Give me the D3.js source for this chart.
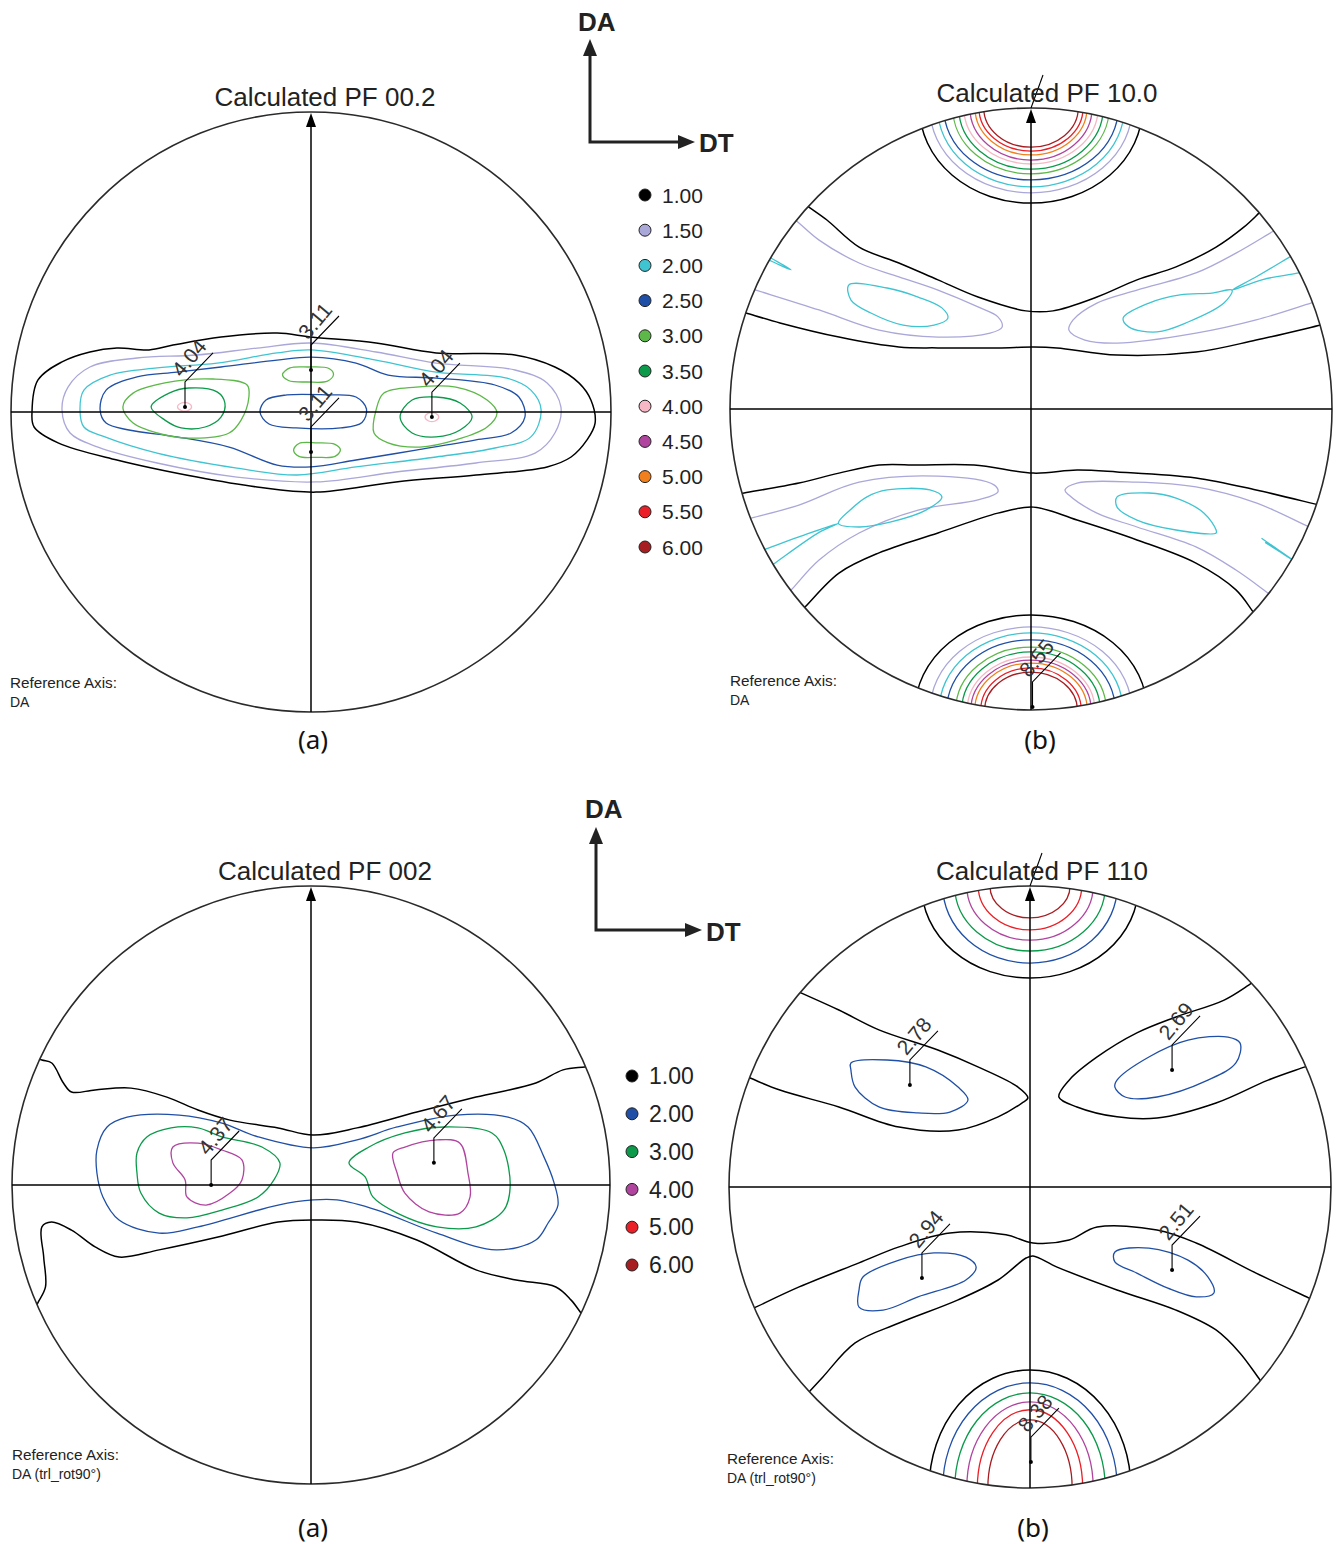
<!DOCTYPE html>
<html><head><meta charset="utf-8">
<script src="https://cdn.jsdelivr.net/npm/d3@7"></script>
<style>body{margin:0;background:#fff}svg{display:block}</style>
</head><body>
<svg id="c" width="1342" height="1544"></svg>
<script>
// ---------------- DATA ----------------
const topLevels = ["1.00","1.50","2.00","2.50","3.00","3.50","4.00","4.50","5.00","5.50","6.00"];
const topColors = ["#000000","#aaa7d9","#3fc4d2","#1f4fa6","#5cb848","#0b9a4a","#f5b8c4","#b0449f","#f0801e","#ea1f27","#a61e22"];
const botLevels = ["1.00","2.00","3.00","4.00","5.00","6.00"];
const botColors = ["#000000","#1f4fa6","#0b9a4a","#b0449f","#ea1f27","#a61e22"];

// PF 00.2 (top-left), normalized pole-figure coords
const tlBlack = [[-0.93,0],[-0.91,0.107],[-0.83,0.167],[-0.737,0.2],[-0.647,0.213],[-0.54,0.207],[-0.46,0.223],[-0.3,0.25],[-0.113,0.263],[0,0.25],[0.217,0.23],[0.417,0.197],[0.68,0.19],[0.813,0.15],[0.893,0.097],[0.933,0.04],[0.947,-0.037],[0.92,-0.093],[0.867,-0.15],[0.787,-0.183],[0.55,-0.21],[0.283,-0.233],[0.017,-0.267],[-0.18,-0.25],[-0.38,-0.217],[-0.647,-0.16],[-0.843,-0.103],[-0.923,-0.05]];
const tlLav = [[-0.83,0.007],[-0.81,0.083],[-0.737,0.15],[-0.58,0.18],[-0.38,0.19],[-0.18,0.213],[0,0.23],[0.217,0.2],[0.417,0.163],[0.68,0.14],[0.787,0.097],[0.833,0.017],[0.813,-0.07],[0.747,-0.137],[0.55,-0.17],[0.283,-0.2],[0.017,-0.233],[-0.247,-0.217],[-0.513,-0.17],[-0.71,-0.117],[-0.803,-0.07]];
const tlCyan = [[-0.77,0.007],[-0.757,0.073],[-0.67,0.123],[-0.513,0.147],[-0.313,0.163],[-0.113,0.197],[0,0.207],[0.217,0.173],[0.417,0.133],[0.653,0.113],[0.733,0.073],[0.767,0.007],[0.733,-0.083],[0.613,-0.12],[0.417,-0.15],[0.15,-0.183],[-0.047,-0.21],[-0.247,-0.187],[-0.513,-0.137],[-0.687,-0.083],[-0.757,-0.05]];
const tlBlue = [[-0.703,0.007],[-0.683,0.073],[-0.58,0.117],[-0.447,0.133],[-0.3,0.15],[-0.113,0.173],[0,0.183],[0.15,0.163],[0.257,0.123],[0.417,0.113],[0.613,0.09],[0.693,0.05],[0.713,-0.017],[0.667,-0.07],[0.55,-0.093],[0.35,-0.127],[0.15,-0.16],[0,-0.183],[-0.113,-0.177],[-0.273,-0.117],[-0.447,-0.083],[-0.607,-0.06],[-0.683,-0.037]];
const tlBlueC = [[-0.17,0],[-0.15,0.04],[-0.08,0.057],[0.05,0.057],[0.15,0.05],[0.185,0.01],[0.17,-0.035],[0.1,-0.053],[-0.05,-0.053],[-0.14,-0.04]];
const tlLgreenL = [[-0.627,0.017],[-0.593,0.063],[-0.487,0.097],[-0.327,0.11],[-0.213,0.09],[-0.207,0.05],[-0.233,-0.027],[-0.273,-0.07],[-0.407,-0.087],[-0.513,-0.07],[-0.593,-0.037]];
const tlLgreenR = [[0.21,-0.07],[0.217,0.007],[0.243,0.063],[0.35,0.083],[0.483,0.083],[0.587,0.04],[0.62,-0.003],[0.587,-0.05],[0.483,-0.093],[0.363,-0.117],[0.257,-0.103]];
const tlLgreenT = [[-0.095,0.125],[-0.07,0.147],[-0.01,0.15],[0.06,0.145],[0.075,0.125],[0.055,0.103],[-0.01,0.1],[-0.075,0.105]];
const tlLgreenB = [[-0.058,-0.127],[-0.04,-0.105],[0.02,-0.103],[0.08,-0.108],[0.098,-0.127],[0.08,-0.148],[0.02,-0.151],[-0.04,-0.148]];
const tlGreenL = [[-0.533,0.017],[-0.473,0.063],[-0.407,0.08],[-0.313,0.067],[-0.287,0.03],[-0.3,-0.017],[-0.353,-0.05],[-0.433,-0.053],[-0.487,-0.027]];
const tlGreenR = [[0.297,-0.017],[0.337,0.04],[0.417,0.05],[0.497,0.03],[0.537,-0.017],[0.497,-0.06],[0.417,-0.083],[0.337,-0.07]];
const tlPinkL = [[-0.445,0.017],[-0.432,0.03],[-0.41,0.03],[-0.398,0.017],[-0.41,0.005],[-0.432,0.005]];
const tlPinkR = [[0.38,-0.017],[0.392,-0.004],[0.414,-0.004],[0.426,-0.017],[0.414,-0.03],[0.392,-0.03]];
const tlPeaks = [[-0.42,0.017],[0.403,-0.017],[0,0.14],[0,-0.133]];
const tlPeakText = ["4.04","4.04","3.11","3.11"];

// PF 10.0 (top-right)
const trBandTopU = [[-0.738,0.671],[-0.678,0.628],[-0.571,0.538],[-0.439,0.485],[-0.309,0.429],[-0.176,0.372],[-0.017,0.326],[0.073,0.326],[0.219,0.372],[0.352,0.429],[0.482,0.472],[0.615,0.538],[0.708,0.605],[0.761,0.654]];
const trBandTopL = [[-0.947,0.319],[-0.834,0.286],[-0.638,0.239],[-0.439,0.206],[-0.309,0.203],[-0.11,0.203],[0.008,0.206],[0.086,0.203],[0.286,0.179],[0.548,0.189],[0.748,0.229],[0.963,0.279]];
const trLavTL = [[-0.771,0.618],[-0.704,0.561],[-0.571,0.485],[-0.439,0.439],[-0.309,0.395],[-0.176,0.339],[-0.11,0.306],[-0.096,0.272],[-0.136,0.252],[-0.309,0.239],[-0.505,0.262],[-0.704,0.329],[-0.914,0.395]];
const trLavTR = [[0.8,0.588],[0.681,0.518],[0.548,0.452],[0.352,0.395],[0.219,0.352],[0.14,0.296],[0.126,0.262],[0.179,0.229],[0.286,0.219],[0.548,0.252],[0.748,0.296],[0.93,0.352]];
const trCyanTL = [[-0.605,0.412],[-0.478,0.402],[-0.375,0.372],[-0.296,0.336],[-0.276,0.302],[-0.322,0.279],[-0.425,0.279],[-0.532,0.319],[-0.598,0.362]];
const trCyanTLspike = [[-0.87,0.505],[-0.797,0.462],[-0.86,0.49]];
const trCyanTR = [[0.306,0.302],[0.392,0.352],[0.495,0.379],[0.601,0.385],[0.668,0.395],[0.641,0.352],[0.522,0.289],[0.419,0.256],[0.326,0.272]];
const trCyanTRspike = [[0.864,0.508],[0.75,0.44],[0.668,0.395],[0.77,0.43],[0.89,0.452]];
const trBandBotU = [[-0.953,-0.279],[-0.771,-0.246],[-0.638,-0.213],[-0.505,-0.186],[-0.375,-0.186],[-0.189,-0.186],[0.008,-0.213],[0.153,-0.203],[0.286,-0.209],[0.548,-0.229],[0.748,-0.269],[0.957,-0.319]];
const trBandBotL = [[-0.751,-0.658],[-0.638,-0.545],[-0.505,-0.478],[-0.309,-0.412],[-0.11,-0.346],[0.008,-0.326],[0.153,-0.369],[0.352,-0.435],[0.548,-0.512],[0.681,-0.601],[0.741,-0.678]];
const trLavBL = [[-0.927,-0.362],[-0.771,-0.319],[-0.571,-0.243],[-0.309,-0.223],[-0.123,-0.252],[-0.11,-0.276],[-0.176,-0.302],[-0.375,-0.336],[-0.571,-0.412],[-0.704,-0.502],[-0.791,-0.595]];
const trLavBR = [[0.92,-0.39],[0.748,-0.312],[0.548,-0.259],[0.352,-0.243],[0.153,-0.246],[0.113,-0.269],[0.126,-0.286],[0.219,-0.346],[0.352,-0.392],[0.548,-0.458],[0.681,-0.535],[0.787,-0.611]];
const trCyanBL = [[-0.545,-0.292],[-0.478,-0.269],[-0.336,-0.269],[-0.296,-0.292],[-0.349,-0.336],[-0.465,-0.375],[-0.571,-0.392],[-0.64,-0.38],[-0.6,-0.335]];
const trCyanBLspike = [[-0.88,-0.465],[-0.771,-0.425],[-0.64,-0.38],[-0.704,-0.41],[-0.855,-0.515]];
const trCyanBR = [[0.286,-0.292],[0.392,-0.279],[0.482,-0.296],[0.575,-0.346],[0.615,-0.402],[0.615,-0.412],[0.482,-0.402],[0.352,-0.369],[0.286,-0.326]];
const trCyanBRspike = [[0.807,-0.458],[0.875,-0.505],[0.82,-0.47]];
const trTopCapA = [0.37,0.336,0.31,0.29,0.26,0.24,0.223,0.203,0.186,0.173,0.157];
const trTopCapB = [0.316,0.282,0.262,0.239,0.219,0.203,0.186,0.173,0.156,0.143,0.13];
const trBotCapA = [0.385,0.335,0.305,0.28,0.25,0.23,0.212,0.2,0.187,0.167,0.154];
const trBotCapB = [0.316,0.276,0.256,0.233,0.209,0.193,0.176,0.166,0.156,0.14,0.126];
const trPeaks = [[0.005,-0.99]];
const trPeakText = ["8.55"];

// PF 002 (bottom-left)
const blBlackU = [[-0.9,0.418],[-0.867,0.408],[-0.828,0.341],[-0.801,0.311],[-0.722,0.318],[-0.602,0.324],[-0.482,0.294],[-0.378,0.251],[-0.271,0.217],[-0.11,0.191],[0.007,0.167],[0.154,0.191],[0.354,0.244],[0.552,0.294],[0.752,0.341],[0.843,0.385],[0.916,0.395]];
const blBlackL = [[-0.914,-0.395],[-0.888,-0.341],[-0.894,-0.241],[-0.9,-0.14],[-0.868,-0.124],[-0.801,-0.151],[-0.722,-0.207],[-0.642,-0.241],[-0.508,-0.217],[-0.311,-0.174],[-0.11,-0.124],[0.007,-0.117],[0.154,-0.124],[0.354,-0.184],[0.552,-0.284],[0.686,-0.318],[0.819,-0.341],[0.87,-0.385],[0.903,-0.428]];
const blBlue = [[-0.716,0.117],[-0.682,0.194],[-0.615,0.227],[-0.441,0.234],[-0.298,0.207],[-0.177,0.161],[0.007,0.124],[0.154,0.151],[0.288,0.194],[0.485,0.234],[0.659,0.227],[0.726,0.194],[0.779,0.094],[0.813,0.007],[0.826,-0.067],[0.793,-0.127],[0.752,-0.184],[0.619,-0.217],[0.421,-0.161],[0.221,-0.084],[0.087,-0.05],[0.007,-0.05],[-0.11,-0.067],[-0.378,-0.14],[-0.508,-0.161],[-0.642,-0.117],[-0.696,-0.04],[-0.716,0.04]];
const blGreenL = [[-0.582,0.107],[-0.548,0.161],[-0.468,0.191],[-0.378,0.191],[-0.298,0.161],[-0.164,0.127],[-0.104,0.074],[-0.124,0.017],[-0.177,-0.04],[-0.298,-0.084],[-0.415,-0.11],[-0.508,-0.094],[-0.569,-0.027],[-0.582,0.04]];
const blGreenR = [[0.127,0.074],[0.194,0.127],[0.314,0.174],[0.445,0.194],[0.605,0.174],[0.645,0.117],[0.666,-0.007],[0.645,-0.084],[0.552,-0.14],[0.421,-0.14],[0.288,-0.094],[0.207,-0.04],[0.181,0.027]];
const blMagL = [[-0.462,0.127],[-0.378,0.14],[-0.298,0.117],[-0.231,0.084],[-0.231,0.017],[-0.271,-0.027],[-0.351,-0.067],[-0.415,-0.04],[-0.421,0.017],[-0.462,0.074]];
const blMagR = [[0.274,0.107],[0.314,0.127],[0.421,0.151],[0.498,0.14],[0.525,0.04],[0.532,-0.04],[0.498,-0.094],[0.395,-0.09],[0.314,-0.027],[0.288,0.04]];
const blPeaks = [[-0.334,0],[0.411,0.074]];
const blPeakText = ["4.37","4.67"];

// PF 110 (bottom-right)
const brBandTL = [[-0.761,0.645],[-0.635,0.588],[-0.502,0.522],[-0.306,0.455],[-0.173,0.399],[-0.04,0.332],[-0.007,0.296],[-0.027,0.279],[-0.106,0.233],[-0.239,0.189],[-0.435,0.199],[-0.635,0.266],[-0.831,0.322],[-0.93,0.362]];
const brBandTR = [[0.738,0.678],[0.645,0.621],[0.485,0.565],[0.355,0.512],[0.223,0.432],[0.13,0.355],[0.096,0.299],[0.156,0.266],[0.289,0.233],[0.422,0.229],[0.618,0.279],[0.791,0.355],[0.914,0.399]];
const brBlueTL = [[-0.595,0.412],[-0.475,0.422],[-0.346,0.399],[-0.239,0.332],[-0.206,0.289],[-0.266,0.249],[-0.372,0.246],[-0.502,0.266],[-0.581,0.332],[-0.595,0.389]];
const brBlueTR = [[0.289,0.355],[0.395,0.432],[0.525,0.488],[0.658,0.498],[0.698,0.478],[0.684,0.412],[0.591,0.355],[0.422,0.299],[0.316,0.299],[0.282,0.332]];
const brBandBU = [[-0.917,-0.402],[-0.767,-0.332],[-0.568,-0.252],[-0.435,-0.199],[-0.266,-0.153],[-0.08,-0.159],[0.01,-0.186],[0.13,-0.176],[0.223,-0.133],[0.422,-0.143],[0.552,-0.186],[0.751,-0.286],[0.927,-0.369]];
const brBandBL = [[-0.734,-0.681],[-0.688,-0.631],[-0.581,-0.518],[-0.435,-0.452],[-0.239,-0.375],[-0.106,-0.309],[-0.013,-0.236],[0.01,-0.229],[0.09,-0.266],[0.289,-0.342],[0.485,-0.409],[0.618,-0.475],[0.698,-0.552],[0.764,-0.641]];
const brBlueBL = [[-0.568,-0.342],[-0.555,-0.299],[-0.435,-0.243],[-0.319,-0.219],[-0.213,-0.233],[-0.179,-0.266],[-0.213,-0.309],[-0.372,-0.365],[-0.488,-0.409],[-0.568,-0.399]];
const brBlueBR = [[0.282,-0.216],[0.395,-0.203],[0.525,-0.243],[0.591,-0.299],[0.611,-0.352],[0.552,-0.365],[0.458,-0.336],[0.355,-0.286],[0.282,-0.249]];
const brTopCapA = [0.36,0.29,0.25,0.21,0.172,0.133];
const brTopCapB = [0.306,0.256,0.216,0.18,0.146,0.106];
const brBotCapA = [0.335,0.29,0.25,0.21,0.175,0.14];
const brBotCapB = [0.392,0.349,0.316,0.286,0.26,0.226];
const brPeaks = [[-0.399,0.339],[0.472,0.389],[-0.359,-0.302],[0.472,-0.276],[0.003,-0.914]];
const brPeakText = ["2.78","2.69","2.94","2.51","8.38"];

// ---------------- DRAW ----------------
const svg = d3.select("#c");
const FONT = "'Liberation Sans', Arial, sans-serif";

function ext(pts){
  const n = pts.length;
  const e = (a,b) => { if (Math.hypot(a[0],a[1]) < 0.85) return a;
    const dx=a[0]-b[0], dy=a[1]-b[1], m=Math.hypot(dx,dy)||1; return [a[0]+dx/m*0.05, a[1]+dy/m*0.05]; };
  return [e(pts[0],pts[1]), ...pts, e(pts[n-1],pts[n-2])];
}

const panels = [
  {id:"tl", cx:311, cy:412, r:300, title:"Calculated PF 00.2", tx:325, ty:106, colors:topColors,
   contours:[[0,1,tlBlack],[1,1,tlLav],[2,1,tlCyan],[3,1,tlBlue],[3,1,tlBlueC],[4,1,tlLgreenL],[4,1,tlLgreenR],[4,1,tlLgreenT],[4,1,tlLgreenB],[5,1,tlGreenL],[5,1,tlGreenR],[6,1,tlPinkL],[6,1,tlPinkR]],
   caps:[], peaks:tlPeaks, peakText:tlPeakText, ref:["Reference Axis:","DA"], rx:10, ry:688, cap:"(a)", capX:313, capY:749, poleLine:false},
  {id:"tr", cx:1031, cy:409, r:301, title:"Calculated PF 10.0", tx:1047, ty:102, colors:topColors,
   contours:[[0,0,trBandTopU],[0,0,trBandTopL],[1,0,trLavTL],[1,0,trLavTR],[2,1,trCyanTL],[2,0,trCyanTLspike],[2,1,trCyanTR],[2,0,trCyanTRspike],
             [0,0,trBandBotU],[0,0,trBandBotL],[1,0,trLavBL],[1,0,trLavBR],[2,1,trCyanBL],[2,0,trCyanBLspike],[2,1,trCyanBR],[2,0,trCyanBRspike]],
   caps:[{pole:1,a:trTopCapA,b:trTopCapB},{pole:-1,a:trBotCapA,b:trBotCapB}], peaks:trPeaks, peakText:trPeakText,
   ref:["Reference Axis:","DA"], rx:730, ry:686, cap:"(b)", capX:1040, capY:749, poleLine:true},
  {id:"bl", cx:311, cy:1185, r:299, title:"Calculated PF 002", tx:325, ty:880, colors:botColors,
   contours:[[0,0,blBlackU],[0,0,blBlackL],[1,1,blBlue],[2,1,blGreenL],[2,1,blGreenR],[3,1,blMagL],[3,1,blMagR]],
   caps:[], peaks:blPeaks, peakText:blPeakText, ref:["Reference Axis:","DA (trl_rot90°)"], rx:12, ry:1460, cap:"(a)", capX:313, capY:1537, poleLine:false},
  {id:"br", cx:1030, cy:1187, r:301, title:"Calculated PF 110", tx:1042, ty:880, colors:botColors,
   contours:[[0,0,brBandTL],[0,0,brBandTR],[1,1,brBlueTL],[1,1,brBlueTR],[0,0,brBandBU],[0,0,brBandBL],[1,1,brBlueBL],[1,1,brBlueBR]],
   caps:[{pole:1,a:brTopCapA,b:brTopCapB},{pole:-1,a:brBotCapA,b:brBotCapB}], peaks:brPeaks, peakText:brPeakText,
   ref:["Reference Axis:","DA (trl_rot90°)"], rx:727, ry:1464, cap:"(b)", capX:1033, capY:1537, poleLine:true}
];

const defs = svg.append("defs");

panels.forEach(P => {
  const g = svg.append("g");
  const x = d3.scaleLinear().domain([-1,1]).range([P.cx-P.r, P.cx+P.r]);
  const y = d3.scaleLinear().domain([-1,1]).range([P.cy+P.r, P.cy-P.r]);
  defs.append("clipPath").attr("id","clip-"+P.id).append("circle")
    .attr("cx",x(0)).attr("cy",y(0)).attr("r",P.r);
  const cg = g.append("g").attr("clip-path",`url(#clip-${P.id})`);
  const lineOpen = d3.line().x(d=>x(d[0])).y(d=>y(d[1])).curve(d3.curveCatmullRom.alpha(0.5));
  const lineClosed = d3.line().x(d=>x(d[0])).y(d=>y(d[1])).curve(d3.curveCatmullRomClosed.alpha(0.5));

  P.caps.forEach(c => {
    c.a.forEach((a,i) => {
      cg.append("ellipse").attr("cx",x(0)).attr("cy",y(c.pole))
        .attr("rx",x(a)-x(0)).attr("ry",y(0)-y(c.b[i]))
        .attr("fill","none").attr("stroke",P.colors[i]).attr("stroke-width", i===0?1.5:1.3);
    });
  });
  P.contours.forEach(([lvl,closed,pts]) => {
    cg.append("path").attr("d", closed ? lineClosed(pts) : lineOpen(ext(pts)))
      .attr("fill","none").attr("stroke",P.colors[lvl]).attr("stroke-width", lvl===0?1.5:1.3)
      .attr("stroke-linejoin","round");
  });

  // outline circle & axes
  g.append("circle").attr("cx",x(0)).attr("cy",y(0)).attr("r",P.r)
    .attr("fill","none").attr("stroke","#2a2a2a").attr("stroke-width",1.6);
  g.append("line").attr("x1",x(-1)).attr("x2",x(1)).attr("y1",y(0)).attr("y2",y(0))
    .attr("stroke","#000").attr("stroke-width",1.5);
  g.append("line").attr("x1",x(0)).attr("x2",x(0)).attr("y1",y(-1)).attr("y2",y(1)+6)
    .attr("stroke","#000").attr("stroke-width",1.5);
  g.append("path").attr("d",`M${x(0)},${y(1)+1}l-5,14h10z`).attr("fill","#000");
  if (P.poleLine) {
    g.append("line").attr("x1",x(0)).attr("y1",y(1)).attr("x2",x(0)+12).attr("y2",y(1)-33)
      .attr("stroke","#000").attr("stroke-width",1.1);
  }

  // peak labels
  P.peaks.forEach((p,i) => {
    const px = x(p[0]), py = y(p[1]);
    g.append("circle").attr("cx",px).attr("cy",py).attr("r",2).attr("fill","#000");
    g.append("path").attr("d",`M${px},${py}V${py-25}l28,-29`)
      .attr("fill","none").attr("stroke","#000").attr("stroke-width",1.1);
    g.append("text").attr("transform",`translate(${px+4},${py-49}) rotate(-50)`)
      .attr("text-anchor","middle").attr("dy","0.35em")
      .attr("font-family",FONT).attr("font-size",21).attr("fill","#333")
      .text(P.peakText[i]);
  });

  // title
  g.append("text").attr("x",P.tx).attr("y",P.ty).attr("text-anchor","middle")
    .attr("font-family",FONT).attr("font-size",26).attr("fill","#222").text(P.title);
  // reference axis
  g.append("text").attr("x",P.rx).attr("y",P.ry).attr("font-family",FONT).attr("font-size",14)
    .attr("fill","#222").attr("textLength",107).attr("lengthAdjust","spacingAndGlyphs").text(P.ref[0]);
  g.append("text").attr("x",P.rx).attr("y",P.ry+19).attr("font-family",FONT).attr("font-size",14)
    .attr("fill","#222").text(P.ref[1]);
  // caption
  g.append("text").attr("x",P.capX).attr("y",P.capY).attr("text-anchor","middle")
    .attr("font-family","'Noto Sans', 'Open Sans', sans-serif").attr("font-size",26).attr("fill","#111").text(P.cap);
});

// legends
function legend(levels, colors, x0, y0, y1, fs){
  const ys = d3.scaleLinear().domain([0, levels.length-1]).range([y0, y1]);
  const g = svg.append("g");
  levels.forEach((l,i) => {
    g.append("circle").attr("cx",x0).attr("cy",ys(i)).attr("r",6)
      .attr("fill",colors[i]).attr("stroke","#222").attr("stroke-width",1);
    g.append("text").attr("x",x0+17).attr("y",ys(i)+fs*0.36).attr("font-family",FONT)
      .attr("font-size",fs).attr("fill","#222").text(l);
  });
}
legend(topLevels, topColors, 645, 195, 547, 21);
legend(botLevels, botColors, 632, 1076, 1265, 23);

// orientation arrows
function orient(ox, oy, top, right, daX, daY, dtX, dtY){
  const g = svg.append("g");
  g.append("path").attr("d",`M${ox},${top+14}V${oy}H${right-14}`)
    .attr("fill","none").attr("stroke","#222").attr("stroke-width",3);
  g.append("path").attr("d",`M${ox},${top}l-7,17h14z`).attr("fill","#222");
  g.append("path").attr("d",`M${right},${oy}l-17,-7v14z`).attr("fill","#222");
  g.append("text").attr("x",daX).attr("y",daY).attr("font-family",FONT).attr("font-weight","bold")
    .attr("font-size",26).attr("fill","#222").text("DA");
  g.append("text").attr("x",dtX).attr("y",dtY).attr("font-family",FONT).attr("font-weight","bold")
    .attr("font-size",26).attr("fill","#222").text("DT");
}
orient(590, 142, 39, 695, 578, 31, 699, 152);
orient(596, 930, 827, 702, 585, 818, 706, 941);
</script>
</body></html>
